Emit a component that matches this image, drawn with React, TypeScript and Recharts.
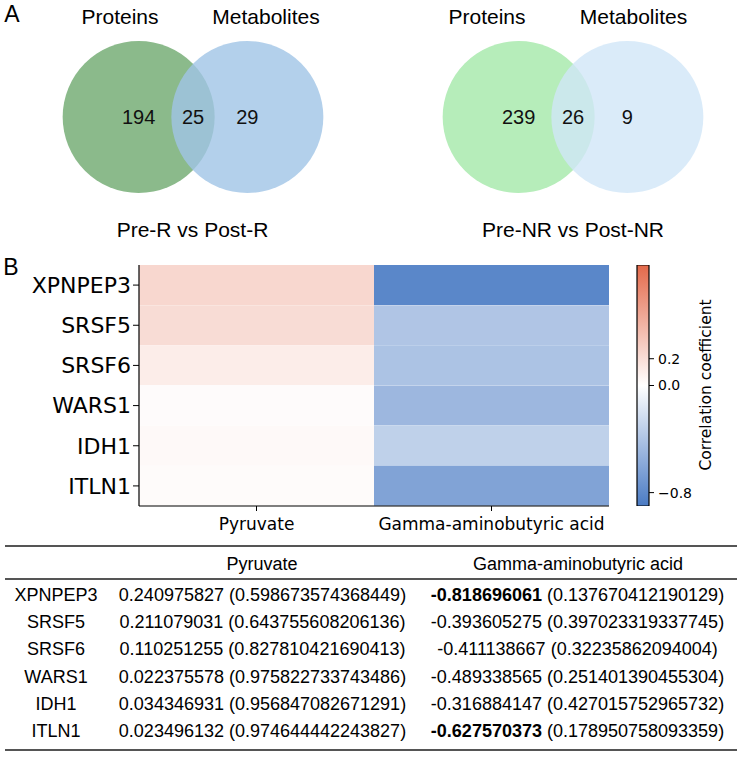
import { BarChart, Bar, Cell, LabelList, Scatter, ScatterChart, XAxis, YAxis } from "recharts";

// Venn diagrams: region counts are [proteins only, shared, metabolites only]
const vennSetNames = ["Proteins", "Metabolites"];
const vennTitles = ["Pre-R vs Post-R", "Pre-NR vs Post-NR"];
const responderCounts = [194, 25, 29];
const nonResponderCounts = [239, 26, 9];

// Protein–metabolite correlations (r and p)
const genes = ["XPNPEP3", "SRSF5", "SRSF6", "WARS1", "IDH1", "ITLN1"];
const metabolites = ["Pyruvate", "Gamma-aminobutyric acid"];
const pyruvateR = [0.240975827, 0.211079031, 0.110251255, 0.022375578, 0.034346931, 0.023496132];
const pyruvateP = [0.598673574368449, 0.643755608206136, 0.827810421690413, 0.975822733743486, 0.956847082671291, 0.974644442243827];
const gabaR = [-0.818696061, -0.393605275, -0.411138667, -0.489338565, -0.316884147, -0.627570373];
const gabaP = [0.137670412190129, 0.397023319337745, 0.32235862094004, 0.251401390455304, 0.427015752965732, 0.178950758093359];
const colorbarTicks = [0.2, 0.0, -0.8];
const corrLimits = [-0.9, 0.9];

const SANS = "'Liberation Sans', Arial, sans-serif";
const DEJAVU = "'DejaVu Sans', sans-serif";

const HOT = [227, 105, 74];
const COLD = [74, 123, 196];

function corrColor(v: number) {
  const t = Math.min(Math.abs(v) / corrLimits[1], 1);
  const end = v >= 0 ? HOT : COLD;
  const c = end.map((e) => Math.round(255 + (e - 255) * t));
  return `rgb(${c.join(",")})`;
}

// --- venn geometry (unit = circle radius) ---
const VENN_R = 76;
const VENN_SEP = 0.715;
const VENN_W = 380;
const VENN_H = 236;
const VENN_X = [-VENN_W / 2 / VENN_R, VENN_W / 2 / VENN_R];
const VENN_Y = [-VENN_H / 2 / VENN_R, VENN_H / 2 / VENN_R];

function VennCircle(props: any) {
  const { cx, cy, fill } = props;
  return <circle cx={cx} cy={cy} r={VENN_R} fill={fill} />;
}

function NoMark() {
  return <g />;
}

function Txt({ x, y, size, children, family = SANS, weight = 400, rotate = 0 }: any) {
  return (
    <div
      style={{
        position: "absolute",
        left: x,
        top: y,
        transform: `translate(-50%, -50%) rotate(${rotate}deg)`,
        fontSize: size,
        fontFamily: family,
        fontWeight: weight,
        lineHeight: 1,
        whiteSpace: "nowrap",
        color: "#000",
      }}
    >
      {children}
    </div>
  );
}

function VennPanel({ counts, colors, center, labelX, title }: any) {
  const circles = [
    { x: -VENN_SEP, y: 0 },
    { x: VENN_SEP, y: 0 },
  ];
  const regions = counts.map((count: number, i: number) => ({ x: (i - 1) * VENN_SEP, y: 0, count }));
  return (
    <>
      <div style={{ position: "absolute", left: center - VENN_W / 2, top: -1 }}>
        <ScatterChart width={VENN_W} height={VENN_H} margin={{ top: 0, right: 0, bottom: 0, left: 0 }}>
          <XAxis type="number" dataKey="x" domain={VENN_X} hide allowDataOverflow />
          <YAxis type="number" dataKey="y" domain={VENN_Y} hide allowDataOverflow />
          <Scatter data={circles} shape={VennCircle} isAnimationActive={false}>
            {colors.map((c: string, i: number) => (
              <Cell key={i} fill={c} />
            ))}
          </Scatter>
          <Scatter data={regions} shape={NoMark} isAnimationActive={false}>
            <LabelList dataKey="count" position="center" fill="#111" fontSize={20} fontFamily={SANS} />
          </Scatter>
        </ScatterChart>
      </div>
      <Txt x={labelX[0]} y={16} size={21}>{vennSetNames[0]}</Txt>
      <Txt x={labelX[1]} y={16} size={21}>{vennSetNames[1]}</Txt>
      <Txt x={center} y={229} size={21}>{title}</Txt>
    </>
  );
}

const pyruvateSpan = () => 1;
const gabaSpan = () => 1;

function Heatmap() {
  const rows = genes.map((gene, i) => ({ gene, pyruvate: pyruvateR[i], gaba: gabaR[i] }));
  const axisStroke = { stroke: "#000", strokeWidth: 1.2 };
  return (
    <div style={{ position: "absolute", left: 0, top: 255 }}>
      <BarChart
        layout="vertical"
        width={620}
        height={290}
        data={rows}
        margin={{ top: 10, right: 11, left: 0, bottom: 0 }}
        barCategoryGap={0}
        barGap={0}
      >
        <XAxis
          type="number"
          domain={[0, 2]}
          ticks={[0.5, 1.5]}
          interval={0}
          tickFormatter={(v: number) => metabolites[Math.floor(v)]}
          height={39}
          tickSize={5}
          tickMargin={7}
          axisLine={axisStroke}
          tickLine={{ stroke: "#000" }}
          tick={{ fill: "#000", fontSize: 17, fontFamily: DEJAVU }}
        />
        <XAxis xAxisId="top" orientation="top" type="number" domain={[0, 2]} height={0} tick={false} tickLine={false} axisLine={axisStroke} />
        <YAxis
          type="category"
          dataKey="gene"
          width={139}
          interval={0}
          tickSize={6}
          tickMargin={2}
          axisLine={axisStroke}
          tickLine={{ stroke: "#000" }}
          tick={{ fill: "#000", fontSize: 22, fontFamily: DEJAVU }}
        />
        <YAxis yAxisId="right" orientation="right" type="category" dataKey="gene" width={0} tick={false} tickLine={false} axisLine={axisStroke} />
        <Bar dataKey={pyruvateSpan} stackId="cells" isAnimationActive={false}>
          {rows.map((r, i) => (
            <Cell key={i} fill={corrColor(r.pyruvate)} />
          ))}
        </Bar>
        <Bar dataKey={gabaSpan} stackId="cells" isAnimationActive={false}>
          {rows.map((r, i) => (
            <Cell key={i} fill={corrColor(r.gaba)} />
          ))}
        </Bar>
      </BarChart>
    </div>
  );
}

function Colorbar() {
  const bar = [{ name: "r", span: corrLimits }];
  const fmt = (v: number) => (v < 0 ? "\u2212" + Math.abs(v).toFixed(1) : v.toFixed(1));
  return (
    <>
      <div style={{ position: "absolute", left: 627, top: 255 }}>
        <BarChart width={114} height={290} data={bar} margin={{ top: 10, right: 0, left: 10, bottom: 39 }} barCategoryGap={0}>
          <defs>
            <linearGradient id="corrGradient" x1="0" y1="0" x2="0" y2="1">
              <stop offset="0%" stopColor={corrColor(corrLimits[1])} />
              <stop offset="50%" stopColor={corrColor(0)} />
              <stop offset="100%" stopColor={corrColor(corrLimits[0])} />
            </linearGradient>
          </defs>
          <XAxis dataKey="name" hide />
          <YAxis
            orientation="right"
            type="number"
            domain={corrLimits}
            allowDataOverflow
            ticks={colorbarTicks}
            interval={0}
            width={92}
            tickSize={5}
            tickMargin={4}
            axisLine={false}
            tickLine={{ stroke: "#000" }}
            tickFormatter={fmt}
            tick={{ fill: "#000", fontSize: 14, fontFamily: DEJAVU, textAnchor: "start" }}
          />
          <Bar dataKey="span" fill="url(#corrGradient)" stroke="#000" strokeWidth={1.2} isAnimationActive={false} />
        </BarChart>
      </div>
      <Txt x={707} y={385} size={15.5} family={DEJAVU} rotate={-90}>
        Correlation coefficient
      </Txt>
    </>
  );
}

const ROW_Y0 = 595;
const ROW_STEP = 27.2;

function Rule({ y, h }: any) {
  return <div style={{ position: "absolute", left: 5, width: 732, top: y, height: h, background: "#555" }} />;
}

function CorrTable() {
  const cell = (r: number, p: number) => (
    <>
      <span style={{ fontWeight: Math.abs(r) >= 0.6 ? 700 : 400 }}>{String(r)}</span> ({String(p)})
    </>
  );
  return (
    <>
      <Rule y={545} h={2} />
      <Txt x={262} y={564} size={18}>{metabolites[0]}</Txt>
      <Txt x={578} y={564} size={18}>{metabolites[1]}</Txt>
      <Rule y={578} h={1.5} />
      {genes.map((g, i) => {
        const y = ROW_Y0 + i * ROW_STEP;
        return (
          <div key={g}>
            <Txt x={56} y={y} size={18}>{g}</Txt>
            <Txt x={262.5} y={y} size={18}>{cell(pyruvateR[i], pyruvateP[i])}</Txt>
            <Txt x={577.5} y={y} size={18}>{cell(gabaR[i], gabaP[i])}</Txt>
          </div>
        );
      })}
      <Rule y={749} h={2} />
    </>
  );
}

export default function App() {
  return (
    <div style={{ position: "absolute", left: 0, top: 0, width: 741, height: 778, background: "#fff", overflow: "hidden" }}>
      <Txt x={12} y={14} size={23}>A</Txt>
      <VennPanel
        counts={responderCounts}
        colors={["rgb(139,186,139)", "rgba(160,196,230,0.8)"]}
        center={192.5}
        labelX={[120, 266]}
        title={vennTitles[0]}
      />
      <VennPanel
        counts={nonResponderCounts}
        colors={["rgb(182,237,186)", "rgba(209,230,247,0.8)"]}
        center={573}
        labelX={[487, 633.5]}
        title={vennTitles[1]}
      />
      <Txt x={11} y={267} size={23}>B</Txt>
      <Heatmap />
      <Colorbar />
      <CorrTable />
    </div>
  );
}
